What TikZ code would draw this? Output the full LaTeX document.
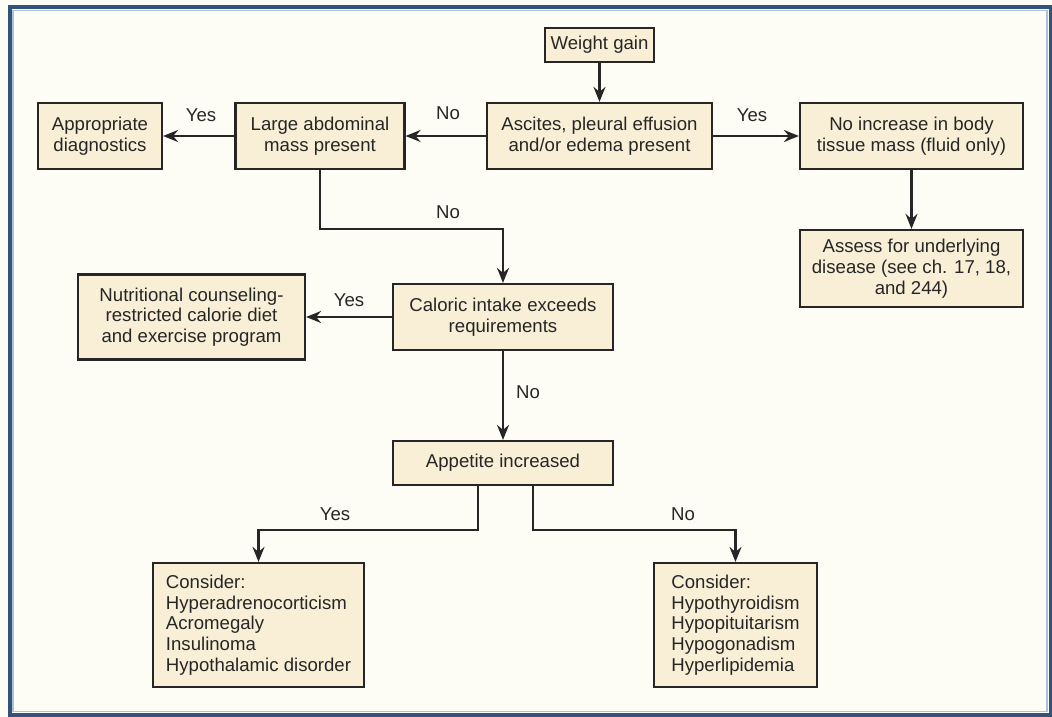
\documentclass[tikz,border=0pt]{standalone}
\usepackage{fontspec}
\setmainfont{Liberation Sans}
\usetikzlibrary{arrows.meta,calc}
\definecolor{pagebg}{HTML}{FDFDF6}
\definecolor{boxfill}{HTML}{F8EFD6}
\definecolor{ink}{HTML}{262626}
\definecolor{frameblue}{HTML}{34527A}
\definecolor{framelight}{HTML}{A9C3DA}
\begin{document}
\begin{tikzpicture}[x=1pt,y=-1pt,
  every node/.style={font=\fontsize{18.6}{20.8}\selectfont, text=ink},
  box/.style={draw=ink, fill=boxfill, line width=2.2pt, align=center, inner sep=0pt},
  listbox/.style={box, align=left},
  arr/.style={draw=ink, line width=2.2pt, -{Stealth[length=15pt,width=12pt,inset=5pt]}},
  lbl/.style={inner sep=0pt}]
\useasboundingbox (0,0) rectangle (1052,717);
% page and frame
\fill[pagebg] (0,0) rectangle (1052,717);
\draw[frameblue, line width=4pt] (10,7) rectangle (1050.5,715);
\draw[framelight, line width=1.6pt] (13,10.5) rectangle (1047,711.5);

% boxes
\node[box, minimum width=109, minimum height=34] (wg) at (599.5,45) {Weight gain};
\node[box, minimum width=225, minimum height=66] (asc) at (599.5,136) {Ascites, pleural effusion\\and/or edema present};
\node[box, minimum width=223, minimum height=66] (noinc) at (911.5,136) {No increase in body\\tissue mass (fluid only)};
\node[box, minimum width=169, minimum height=66] (large) at (320,136) {Large abdominal\\mass present};
\node[box, minimum width=124, minimum height=66] (appr) at (100,136) {Appropriate\\diagnostics};
\node[box, minimum width=223, minimum height=77] (assess) at (911.5,268.5) {Assess for underlying\\disease (see ch. 17, 18,\\and 244)};
\node[box, minimum width=220, minimum height=66] (cal) at (503,317) {Caloric intake exceeds\\requirements};
\node[box, minimum width=227, minimum height=85] (nutr) at (191.5,317) {Nutritional counseling-\\restricted calorie diet\\and exercise program};
\node[box, minimum width=220, minimum height=44] (app) at (503,463) {Appetite increased};
\node[listbox, minimum width=211, minimum height=124] (consL) at (258.5,625) {Consider:\\Hyperadrenocorticism\\Acromegaly\\Insulinoma\\Hypothalamic disorder};
\node[listbox, minimum width=163, minimum height=124] (consR) at (735.5,625) {Consider:\\Hypothyroidism\\Hypopituitarism\\Hypogonadism\\Hyperlipidemia};

% connectors
\draw[arr] (wg.south) -- (asc.north);
\draw[arr] (asc.west) -- (large.east);
\draw[arr] (large.west) -- (appr.east);
\draw[arr] (asc.east) -- (noinc.west);
\draw[arr] (noinc.south) -- (assess.north);
\draw[arr] (large.south) |- ($(large.south)!0.52!(cal.north)$) -| (cal.north);
\draw[arr] (cal.west) -- (nutr.east);
\draw[arr] (cal.south) -- (app.north);
\coordinate (appYes) at ([xshift=-25pt]app.south);
\coordinate (appNo) at ([xshift=30pt]app.south);
\draw[arr] (appYes) |- ($(appYes)!0.58!(consL.north)$) -| (consL.north);
\draw[arr] (appNo) |- ($(appNo)!0.58!(consR.north)$) -| (consR.north);

% branch labels
\node[lbl] (l1) at (448,113) {No};
\node[lbl] (l2) at (201,115) {Yes};
\node[lbl] (l3) at (752,115) {Yes};
\node[lbl] (l4) at (448,212) {No};
\node[lbl] (l5) at (349,300) {Yes};
\node[lbl] (l6) at (528,392) {No};
\node[lbl] (l7) at (335,514) {Yes};
\node[lbl] (l8) at (683,514) {No};
\end{tikzpicture}
\end{document}
